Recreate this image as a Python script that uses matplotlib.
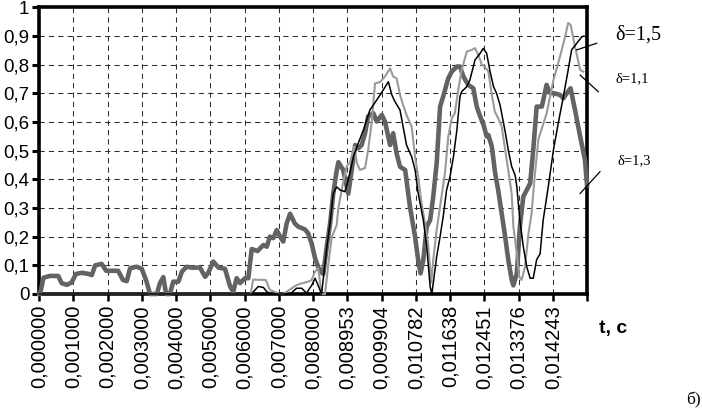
import matplotlib.pyplot as plt

# time labels of the category axis (one label per tick)
t_labels = ['0,000000', '0,001000', '0,002000', '0,003000', '0,004000',
            '0,005000', '0,006000', '0,007000', '0,008000', '0,008953',
            '0,009904', '0,010782', '0,011638', '0,012451', '0,013376',
            '0,014243']

# delta = 1,3 (thick dark grey) : position on category axis, value
x13 = [0.00, 0.03, 0.13, 0.32, 0.56, 0.66, 0.81, 0.95, 1.08, 1.25, 1.44, 1.54,
       1.64, 1.83, 1.96, 2.16, 2.31, 2.45, 2.56, 2.66, 2.85, 3.00, 3.14, 3.24,
       3.44, 3.53, 3.63, 3.71, 3.82, 3.92, 4.07, 4.17, 4.31, 4.46, 4.70, 4.85,
       4.94, 5.09, 5.24, 5.43, 5.58, 5.67, 5.77, 5.87, 6.01, 6.11, 6.21, 6.38,
       6.55, 6.65, 6.74, 6.84, 6.94, 7.04, 7.13, 7.23, 7.33, 7.47, 7.57, 7.77,
       7.86, 7.96, 8.06, 8.15, 8.25, 8.30, 8.40, 8.50, 8.59, 8.69, 8.74, 8.88,
       9.03, 9.13, 9.23, 9.32, 9.42, 9.52, 9.61, 9.76, 9.86, 10.01, 10.10,
       10.25, 10.34, 10.44, 10.54, 10.69, 10.83, 10.98, 11.07, 11.14, 11.22,
       11.32, 11.42, 11.51, 11.61, 11.71, 11.80, 11.95, 12.05, 12.20, 12.29,
       12.39, 12.53, 12.68, 12.78, 12.88, 12.98, 13.07, 13.12, 13.22, 13.32,
       13.41, 13.51, 13.61, 13.70, 13.80, 13.85, 13.95, 14.04, 14.14, 14.34,
       14.43, 14.53, 14.68, 14.82, 14.92, 15.02, 15.21, 15.31, 15.41, 15.52,
       15.65, 15.80, 15.94, 16.00]
y13 = [0.0, 0.0, 0.057, 0.063, 0.063, 0.038, 0.032, 0.04, 0.07, 0.074, 0.07,
       0.066, 0.10, 0.105, 0.081, 0.081, 0.081, 0.049, 0.045, 0.09, 0.095,
       0.088, 0.043, 0.0, 0.0, 0.038, 0.059, 0.0, 0.0, 0.043, 0.043, 0.078,
       0.095, 0.092, 0.092, 0.06, 0.074, 0.113, 0.092, 0.088, 0.026, 0.008,
       0.055, 0.038, 0.055, 0.055, 0.157, 0.150, 0.171, 0.165, 0.20, 0.195,
       0.223, 0.20, 0.183, 0.246, 0.28, 0.246, 0.235, 0.225, 0.211, 0.176,
       0.124, 0.095, 0.075, 0.07, 0.165, 0.247, 0.35, 0.43, 0.46, 0.433, 0.35,
       0.433, 0.52, 0.508, 0.52, 0.561, 0.62, 0.631, 0.602, 0.625, 0.602,
       0.52, 0.561, 0.491, 0.444, 0.433, 0.305, 0.20, 0.119, 0.072, 0.119,
       0.235, 0.258, 0.34, 0.456, 0.654, 0.689, 0.753, 0.776, 0.794, 0.794,
       0.759, 0.73, 0.718, 0.654, 0.62, 0.59, 0.55, 0.555, 0.515, 0.42, 0.36,
       0.28, 0.20, 0.12, 0.05, 0.03, 0.072, 0.235, 0.34, 0.386, 0.503, 0.654,
       0.654, 0.73, 0.701, 0.701, 0.695, 0.683, 0.701, 0.718, 0.642, 0.55,
       0.468, 0.38]

# delta = 1,1 (light grey)
x11 = [0.00, 6.18, 6.25, 6.62, 6.74, 7.04, 7.13, 7.23, 7.38, 7.52, 7.67, 7.86,
       7.96, 8.06, 8.15, 8.25, 8.35, 8.45, 8.55, 8.69, 8.74, 8.88, 8.98, 9.08,
       9.20, 9.28, 9.37, 9.52, 9.61, 9.71, 9.81, 9.96, 10.10, 10.25, 10.34,
       10.44, 10.54, 10.63, 10.73, 10.88, 10.98, 11.07, 11.17, 11.27, 11.36,
       11.45, 11.51, 11.61, 11.75, 11.85, 11.95, 12.05, 12.14, 12.24, 12.34,
       12.49, 12.63, 12.73, 12.83, 12.93, 13.02, 13.12, 13.22, 13.31, 13.41,
       13.51, 13.61, 13.70, 13.80, 13.85, 13.95, 14.02, 14.09, 14.19, 14.29,
       14.38, 14.48, 14.58, 14.82, 15.02, 15.21, 15.36, 15.45, 15.52, 15.65,
       15.80, 15.89]
y11 = [0.0, 0.0, 0.05, 0.049, 0.014, 0.0, 0.0, 0.008, 0.02, 0.031, 0.037,
       0.043, 0.049, 0.078, 0.09, 0.0, 0.0, 0.107, 0.20, 0.24, 0.30, 0.39,
       0.445, 0.46, 0.515, 0.457, 0.433, 0.44, 0.503, 0.595, 0.735, 0.74,
       0.759, 0.788, 0.759, 0.753, 0.695, 0.66, 0.625, 0.584, 0.479, 0.41,
       0.316, 0.246, 0.176, 0.04, 0.119, 0.223, 0.339, 0.42, 0.55, 0.613,
       0.631, 0.712, 0.782, 0.846, 0.852, 0.858, 0.834, 0.80, 0.793, 0.776,
       0.695, 0.636, 0.613, 0.584, 0.503, 0.433, 0.35, 0.235, 0.142, 0.06,
       0.049, 0.095, 0.21, 0.28, 0.42, 0.54, 0.63, 0.747, 0.828, 0.898, 0.946,
       0.94, 0.863, 0.782, 0.776]

# delta = 1,5 (black)
x15 = [0.00, 6.21, 6.26, 6.40, 6.55, 6.65, 6.74, 6.94, 7.33, 7.52, 7.67, 7.81,
       7.96, 8.06, 8.15, 8.25, 8.40, 8.50, 8.59, 8.69, 8.79, 8.93, 9.03, 9.18,
       9.32, 9.47, 9.66, 9.86, 10.05, 10.20, 10.30, 10.39, 10.54, 10.63, 10.73,
       10.88, 10.98, 11.07, 11.22, 11.32, 11.42, 11.47, 11.51, 11.61, 11.71,
       11.80, 11.90, 12.00, 12.10, 12.20, 12.29, 12.34, 12.49, 12.58, 12.73,
       12.88, 12.97, 13.07, 13.17, 13.27, 13.36, 13.46, 13.61, 13.70, 13.80,
       13.90, 13.95, 14.04, 14.14, 14.24, 14.34, 14.43, 14.53, 14.63, 14.72,
       14.87, 15.02, 15.16, 15.31, 15.45, 15.55, 15.70, 15.85, 15.91]
y15 = [0.0, 0.0, 0.008, 0.026, 0.023, 0.008, 0.003, 0.0, 0.0, 0.02, 0.02,
       0.003, 0.03, 0.055, 0.03, 0.0, 0.16, 0.25, 0.35, 0.374, 0.363, 0.357,
       0.398, 0.479, 0.526, 0.572, 0.642, 0.677, 0.712, 0.741, 0.695, 0.672,
       0.642, 0.584, 0.52, 0.479, 0.433, 0.352, 0.258, 0.166, 0.025, 0.0,
       0.038, 0.13, 0.20, 0.27, 0.363, 0.41, 0.479, 0.572, 0.689, 0.706,
       0.724, 0.747, 0.817, 0.84, 0.857, 0.84, 0.776, 0.724, 0.70, 0.66,
       0.567, 0.503, 0.445, 0.415, 0.375, 0.258, 0.165, 0.095, 0.055, 0.055,
       0.12, 0.14, 0.258, 0.375, 0.503, 0.596, 0.689, 0.782, 0.852, 0.875,
       0.898, 0.90]

y_ticks = [0, 0.1, 0.2, 0.3, 0.4, 0.5, 0.6, 0.7, 0.8, 0.9, 1]
y_labels = ['0', '0,1', '0,2', '0,3', '0,4', '0,5', '0,6', '0,7', '0,8', '0,9', '1']

plt.rcParams['font.family'] = ['Liberation Sans', 'DejaVu Sans']

fig = plt.figure(figsize=(7.02, 4.09), dpi=100)
ax = fig.add_axes([0.0556, 0.2812, 0.7806, 0.7005])

ax.plot(x13, y13, color='#636363', lw=3.3, zorder=4, clip_on=False,
        solid_joinstyle='round')
ax.plot(x11, y11, color='#9a9a9a', lw=1.5, zorder=5, clip_on=False)
ax.plot(x15, y15, color='black', lw=1.1, zorder=6, clip_on=False)

ax.set_xlim(0, 16)
ax.set_ylim(0, 1)
ax.set_xticks(range(17))
ax.set_xticklabels(t_labels + [''], rotation=90, fontsize=14.5)
ax.set_yticks(y_ticks)
ax.set_yticklabels(y_labels, fontsize=13.5)
ax.tick_params(axis='x', direction='out', length=5, width=1.8, pad=3)
ax.tick_params(axis='y', direction='out', length=5, width=2.2, pad=2)

ax.grid(True, color='#2e2e2e', lw=0.75, ls=(0, (5, 4)))
ax.set_axisbelow(True)
for s in ax.spines.values():
    s.set_linewidth(2.6)
    s.set_zorder(3)

# curve labels with leader lines
serif = ['Liberation Serif', 'DejaVu Serif']
ax.plot([15.70, 16.28], [0.852, 0.875], color='black', lw=0.9, clip_on=False, zorder=7)
ax.plot([15.80, 16.33], [0.764, 0.706], color='black', lw=0.9, clip_on=False, zorder=7)
ax.plot([15.80, 16.38], [0.351, 0.427], color='black', lw=0.9, clip_on=False, zorder=7)
ax.text(16.82, 0.904, 'δ=1,5', family=serif, fontsize=14.5, va='center', ha='left')
ax.text(16.82, 0.75, 'δ=1,1', family=serif, fontsize=10.5, va='center', ha='left')
ax.text(16.88, 0.464, 'δ=1,3', family=serif, fontsize=10.5, va='center', ha='left')

fig.text(613 / 702, 1 - 329 / 409, 't, c', fontsize=14, fontweight='bold',
         ha='center', va='center')
fig.text(701 / 702, 1 - 400 / 409, 'б)', family=serif, fontsize=12.5,
         ha='right', va='center')

fig.savefig('out.png', dpi=100)
